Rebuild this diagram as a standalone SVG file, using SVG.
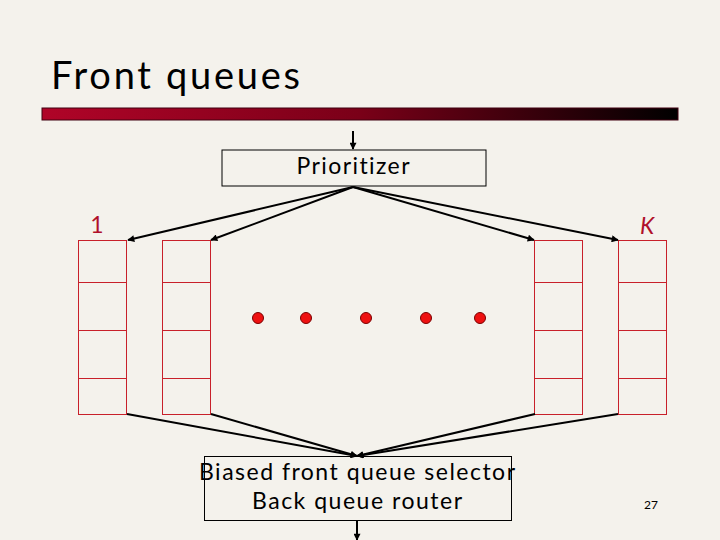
<svg xmlns="http://www.w3.org/2000/svg" width="720" height="540" viewBox="0 0 720 540">
<defs>
<linearGradient id="bar" x1="0" y1="0" x2="1" y2="0">
<stop offset="0" stop-color="#b00428"/>
<stop offset="0.5" stop-color="#7a0018"/>
<stop offset="1" stop-color="#000000"/>
</linearGradient>
<marker id="ah" viewBox="0 0 10 10" refX="9" refY="5" markerWidth="10" markerHeight="7" markerUnits="userSpaceOnUse" orient="auto">
<path d="M0,0 L10,5 L0,10 z" fill="#000"/>
</marker>
<style>
text{font-variant-ligatures:none}
.t{font-family:Lato,"DejaVu Sans",sans-serif;fill:#000}
.box{fill:none;stroke:#000;stroke-width:1}
.q{fill:none;stroke:#c8202a;stroke-width:1}
.c{stroke:#000;stroke-width:2;fill:none}
.dot{fill:#ee1111;stroke:#7a0000;stroke-width:1}
.lab{font-family:Lato,"DejaVu Sans",sans-serif;font-size:23px;fill:#b0102a;text-anchor:middle}
</style>
</defs>
<rect width="720" height="540" fill="#f4f2ec"/>
<g id="title">
<text class="t" x="51" y="89" font-size="38" textLength="249" lengthAdjust="spacing">Front queues</text>
<rect x="42" y="108" width="636" height="12" fill="url(#bar)" stroke="#400010" stroke-width="1"/>
</g>
<g id="prioritizer">
<rect class="box" x="222" y="150" width="264" height="36"/>
<text class="t" x="353" y="174" font-size="23" text-anchor="middle" textLength="113" lengthAdjust="spacing">Prioritizer</text>
</g>
<g id="queue1">
<rect class="q" x="78.5" y="240.5" width="48" height="174"/>
<path class="q" d="M78.5 282.5H126.5M78.5 330.5H126.5M78.5 378.5H126.5"/>
<text class="lab" x="97" y="233">1</text>
</g>
<g id="queue2">
<rect class="q" x="162.5" y="240.5" width="48" height="174"/>
<path class="q" d="M162.5 282.5H210.5M162.5 330.5H210.5M162.5 378.5H210.5"/>
</g>
<g id="queue3">
<rect class="q" x="534.5" y="240.5" width="48" height="174"/>
<path class="q" d="M534.5 282.5H582.5M534.5 330.5H582.5M534.5 378.5H582.5"/>
</g>
<g id="queueK">
<rect class="q" x="618.5" y="240.5" width="48" height="174"/>
<path class="q" d="M618.5 282.5H666.5M618.5 330.5H666.5M618.5 378.5H666.5"/>
<text class="lab" x="647" y="234" font-style="italic">K</text>
</g>
<g id="dots">
<circle class="dot" cx="258" cy="318" r="5.5"/>
<circle class="dot" cx="306" cy="318" r="5.5"/>
<circle class="dot" cx="366" cy="318" r="5.5"/>
<circle class="dot" cx="426" cy="318" r="5.5"/>
<circle class="dot" cx="480" cy="318" r="5.5"/>
</g>
<g id="selector">
<rect class="box" x="204.5" y="456.5" width="307" height="64"/>
<text class="t" x="357" y="480" font-size="23" text-anchor="middle" textLength="316" lengthAdjust="spacing">Biased front queue selector</text>
<text class="t" x="357" y="509" font-size="23" text-anchor="middle" textLength="210" lengthAdjust="spacing">Back queue router</text>
</g>
<g id="pagenum">
<text class="t" x="651" y="509" font-size="12" text-anchor="middle">27</text>
</g>
<g id="connectors">
<line class="c" x1="353" y1="131" x2="353" y2="149" marker-end="url(#ah)"/>
<line class="c" x1="353" y1="187" x2="128" y2="240" marker-end="url(#ah)"/>
<line class="c" x1="353" y1="187" x2="211" y2="240" marker-end="url(#ah)"/>
<line class="c" x1="353" y1="187" x2="534" y2="240" marker-end="url(#ah)"/>
<line class="c" x1="353" y1="187" x2="618" y2="240" marker-end="url(#ah)"/>
<line class="c" x1="127" y1="414" x2="357" y2="456" marker-end="url(#ah)"/>
<line class="c" x1="211" y1="414" x2="357" y2="456" marker-end="url(#ah)"/>
<line class="c" x1="535" y1="414" x2="357" y2="456" marker-end="url(#ah)"/>
<line class="c" x1="618" y1="414" x2="357" y2="456" marker-end="url(#ah)"/>
<line class="c" x1="357" y1="521" x2="357" y2="540" marker-end="url(#ah)"/>
</g>
</svg>
